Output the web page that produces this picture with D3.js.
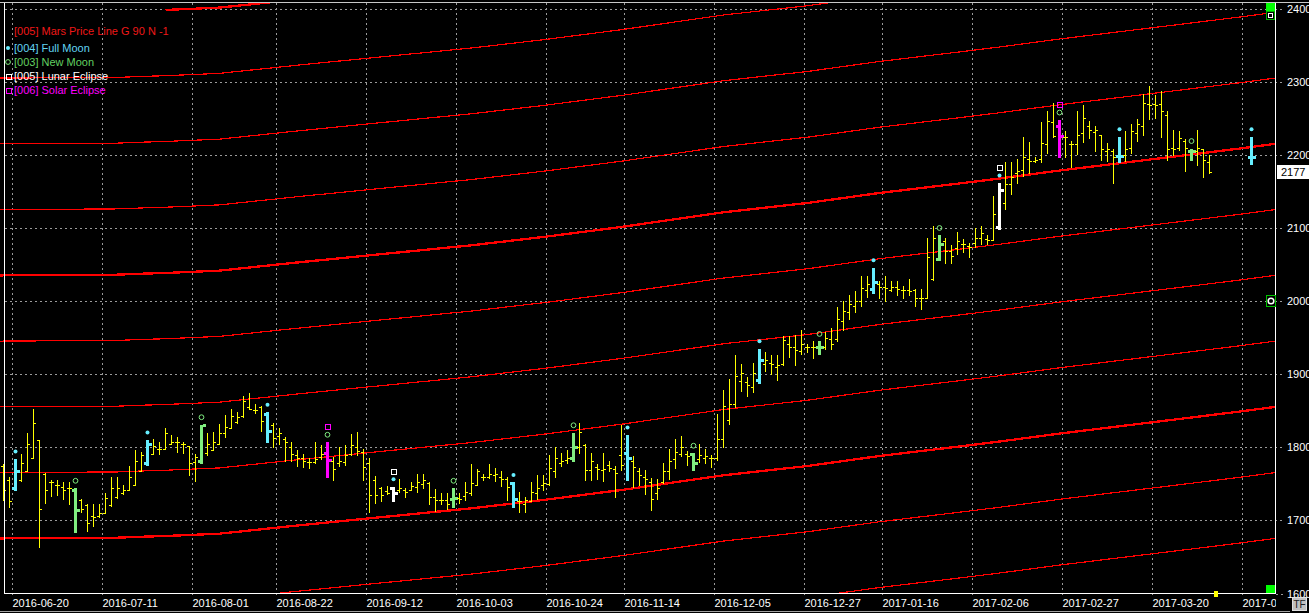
<!DOCTYPE html>
<html>
<head>
<meta charset="utf-8">
<script src="https://cdn.jsdelivr.net/npm/d3@7"></script>
<style>
html, body { margin: 0; padding: 0; background: #000; }
svg { display: block; font-family: "Liberation Sans", Arial, sans-serif; }
</style>
</head>
<body>
<svg id="chart" width="1309" height="613"></svg>
<script>
// one bar per trading day, bar 0 = 2016-06-16
var open = [
  1774,1756,1744,1755,1767,1785,1810,1763,1753,1748, 1746,1745,1742,1728,1721,1706,1706,1710,1721,1732,
  1737,1741,1749,1767,1779,1791,1798,1798,1805,1807, 1805,1802,1780,1781,1792,1797,1805,1819,1826,1835,
  1843,1855,1851,1855,1846,1830,1816,1812,1800,1789, 1785,1780,1780,1787,1792,1782,1778,1780,1791,1800,
  1794,1778,1755,1745,1740,1744,1741,1741,1742,1746, 1750,1751,1732,1728,1728,1730,1731,1734,1738,1749,
  1759,1760,1762,1760,1757,1751,1727,1722,1727,1737, 1748,1750,1768,1778,1783,1785,1801,1803,1769,1773,
  1769,1776,1771,1790,1792,1781,1768,1760,1752,1737, 1752,1768,1784,1791,1791,1791,1784,1786,1786,1786,
  1812,1837,1860,1891,1889,1882,1892,1914,1916,1910, 1914,1941,1937,1932,1937,1937,1937,1937,1948,1948,
  1973,1985,1994,2001,2016,2017,2023,2019,2016,2020, 2016,2016,2015,2005,2005,2030,2058,2083,2069,2073,
  2078,2076,2080,2086,2085,2084,2101,2135,2160,2175, 2180,2195,2192,2195,2215,2245,2240,2225,2215,2215,
  2230,2240,2232,2227,2205,2205,2199,2200,2210,2230, 2240,2270,2270,2270,2255,2210,2210,2220,2206,2205,
  2208,2190
];
var high = [
  1777,1759,1784,1791,1819,1852,1810,1765,1756,1756, 1753,1753,1744,1729,1722,1722,1722,1738,1760,1760,
  1749,1775,1797,1794,1810,1812,1807,1826,1817,1814, 1807,1802,1791,1831,1819,1821,1832,1844,1853,1848,
  1871,1875,1859,1856,1848,1833,1826,1814,1807,1796, 1791,1786,1807,1803,1807,1787,1801,1803,1818,1821,
  1798,1786,1761,1746,1747,1746,1757,1744,1753,1764, 1763,1752,1743,1738,1737,1744,1737,1752,1777,1770,
  1764,1777,1772,1767,1760,1752,1739,1732,1752,1762, 1762,1789,1801,1792,1796,1820,1834,1805,1792,1777,
  1792,1782,1775,1830,1817,1788,1772,1769,1758,1757, 1779,1798,1812,1815,1795,1792,1805,1798,1790,1846,
  1879,1893,1926,1914,1896,1916,1935,1930,1927,1926, 1952,1953,1954,1960,1941,1945,1945,1958,1964,1992,
  2001,2009,2014,2035,2035,2046,2028,2034,2028,2028, 2021,2031,2017,2017,2086,2103,2090,2087,2077,2095,
  2085,2080,2100,2103,2090,2144,2162,2191,2191,2195, 2225,2218,2197,2245,2260,2272,2248,2233,2220,2261,
  2269,2247,2240,2228,2216,2208,2225,2233,2242,2249, 2284,2294,2282,2288,2261,2235,2233,2222,2209,2235,
  2209,2200
];
var low = [
  1728,1718,1741,1754,1767,1785,1663,1724,1734,1735, 1729,1723,1684,1712,1685,1692,1705,1710,1720,1731,
  1736,1741,1749,1767,1776,1791,1791,1798,1804,1793, 1792,1762,1754,1779,1790,1797,1804,1814,1826,1833,
  1842,1852,1847,1823,1807,1800,1805,1782,1781,1774, 1773,1772,1778,1784,1760,1755,1774,1776,1789,1789,
  1755,1711,1724,1726,1736,1726,1739,1732,1741,1739, 1744,1723,1713,1722,1715,1719,1724,1728,1735,1748,
  1755,1758,1754,1747,1728,1718,1711,1712,1726,1730, 1742,1748,1760,1775,1779,1782,1792,1756,1756,1757,
  1754,1767,1732,1769,1755,1746,1748,1736,1714,1730, 1751,1757,1772,1788,1776,1769,1780,1779,1773,1783,
  1800,1832,1855,1877,1870,1876,1888,1904,1901,1892, 1913,1924,1913,1928,1930,1923,1928,1935,1935,1946,
  1960,1976,1985,1993,2006,2011,2005,2001,2014,2008, 2004,2009,1993,1989,2005,2029,2056,2053,2053,2065,
  2067,2060,2074,2078,2078,2084,2099,2126,2147,2162, 2172,2176,2190,2190,2203,2225,2197,2197,2184,2201,
  2218,2223,2206,2193,2192,2162,2190,2192,2203,2219, 2228,2250,2251,2225,2193,2200,2207,2178,2193,2187,
  2170,2176
];
var close = [
  1741,1726,1767,1779,1804,1834,1716,1741,1753,1748, 1741,1744,1714,1716,1697,1705,1710,1731,1745,1744,
  1741,1759,1782,1790,1804,1802,1798,1820,1808,1807, 1805,1778,1787,1830,1804,1808,1820,1828,1843,1842,
  1863,1853,1851,1836,1823,1813,1820,1807,1791,1786, 1782,1780,1784,1791,1783,1771,1781,1789,1803,1795,
  1773,1735,1735,1735,1738,1738,1744,1739,1747,1753, 1755,1732,1728,1728,1723,1731,1730,1739,1751,1767,
  1759,1764,1763,1757,1746,1729,1726,1728,1739,1745, 1751,1772,1785,1782,1785,1801,1821,1769,1782,1770,
  1770,1772,1765,1776,1786,1773,1762,1757,1730,1745, 1767,1782,1794,1801,1788,1779,1789,1788,1785,1812,
  1856,1860,1898,1902,1885,1902,1919,1920,1914,1913, 1947,1938,1933,1941,1938,1937,1937,1950,1942,1976,
  1987,1996,2001,2018,2023,2026,2019,2018,2020,2017, 2015,2014,2005,2005,2060,2087,2079,2069,2062,2083,
  2079,2074,2086,2093,2084,2119,2152,2160,2170,2178, 2197,2192,2193,2217,2247,2226,2226,2225,2215,2228,
  2251,2235,2234,2208,2209,2197,2199,2208,2233,2242, 2272,2269,2269,2260,2208,2209,2223,2210,2206,2210,
  2193,2177
];

// projected bar on the next full moon (2017-04-11)
var extraBar = {i: 208, o: 2198, h: 2225, l: 2188, c: 2198};

// moon / eclipse events, as bar numbers
var fullMoon = [2, 24, 44, 65, 85, 104, 126, 145, 166, 186, 208];
var newMoon = [12, 33, 54, 75, 95, 115, 136, 156, 176, 198];
var lunarEclipse = [65, 166];
var solarEclipse = [54, 176];

// date axis
var tickLabels = ["2016-06-20", "2016-07-11", "2016-08-01", "2016-08-22", "2016-09-12", "2016-10-03",
  "2016-10-24", "2016-11-14", "2016-12-05", "2016-12-27", "2017-01-16", "2017-02-06", "2017-02-27",
  "2017-03-20", "2017-04-10"];
var tickBars = [2, 17, 32, 46, 61, 76, 91, 104, 119, 134, 147, 162, 177, 192, 207];
var priceTicks = [1600, 1700, 1800, 1900, 2000, 2100, 2200, 2300, 2400];

// Mars price line: base level read at some bars, the others are parallel at 90 steps
var marsBars = [-1, 19, 23, 27, 31, 36, 49, 61, 78, 90, 103, 120, 134, 146, 160, 166, 176, 184, 190, 198, 206, 212];
var marsBase = [1675.4, 1676.4, 1677.7, 1678.7, 1680.1, 1681.9, 1693.1, 1702.9, 1716.6, 1728.0, 1741.7,
  1761.8, 1774.5, 1788.2, 1801.9, 1808.0, 1818.9, 1826.9, 1832.9, 1840.9, 1849.0, 1855.5];
var marsOffsets = [-180, -90, 0, 90, 180, 270, 360, 450, 540, 630, 720];
var marsFirstBar = {720: 27};

var cursorBar = 202;
var lastPrice = close[close.length - 1];

var legend = [
  {text: "[005] Mars Price Line G 90 N -1", color: "#f01818", mark: null},
  {text: "[004] Full Moon", color: "#62d4f2", mark: "full"},
  {text: "[003] New Moon", color: "#62d062", mark: "new"},
  {text: "[005] Lunar Eclipse", color: "#ffffff", mark: "lunar"},
  {text: "[006] Solar Eclipse", color: "#ff00ff", mark: "solar"}
];

var colors = {plain: "#ffff00", full: "#66eeff", new: "#80ee80", lunar: "#ffffff", solar: "#ff00ff"};

var svg = d3.select("#chart");
var x = d3.scaleLinear().domain([0, 212]).range([3.5, 1275.5]);
var y = d3.scaleLinear().domain([1600, 2400]).range([593.5, 9]);
var py = v => Math.round(y(v)) + 0.5;

svg.append("rect").attr("width", 1309).attr("height", 613).attr("fill", "#000");

svg.append("clipPath").attr("id", "plotClip")
  .append("rect").attr("x", 0).attr("y", 3).attr("width", 1275.5).attr("height", 590.5);
svg.append("clipPath").attr("id", "dateClip")
  .append("rect").attr("x", 0).attr("y", 594).attr("width", 1276).attr("height", 19);

// grid
var grid = svg.append("g").attr("stroke", "#9a9a9a").attr("stroke-dasharray", "2,3")
  .attr("shape-rendering", "crispEdges");
grid.selectAll(".hg").data(priceTicks.slice(1)).join("line")
  .attr("x1", 5).attr("x2", 1283).attr("y1", py).attr("y2", py);
grid.selectAll(".vg").data(tickBars).join("line")
  .attr("x1", d => x(d) - 3).attr("x2", d => x(d) - 3)
  .attr("y1", 3).attr("y2", 598);
grid.append("line").attr("x1", 1276).attr("x2", 1283).attr("y1", py(1600)).attr("y2", py(1600));

var plot = svg.append("g").attr("clip-path", "url(#plotClip)");

// Mars price lines
var line = d3.line().x(d => x(d[0])).y(d => y(d[1]));
marsOffsets.forEach(off => {
  var first = marsFirstBar[off] !== undefined ? marsFirstBar[off] : -99;
  var pts = [];
  marsBars.forEach((b, j) => { if (b >= first) pts.push([b, marsBase[j] + off]); });
  plot.append("path")
    .attr("d", line(pts))
    .attr("fill", "none")
    .attr("stroke", "#ff0000")
    .attr("stroke-width", off % 360 == 0 ? 2.3 : 1.2)
    .attr("shape-rendering", "crispEdges");
});

// bars
function kindOf(i) {
  if (solarEclipse.includes(i)) return "solar";
  if (lunarEclipse.includes(i)) return "lunar";
  if (fullMoon.includes(i)) return "full";
  if (newMoon.includes(i)) return "new";
  return "plain";
}
var bars = d3.range(open.length).map(i => ({i: i, o: open[i], h: high[i], l: low[i], c: close[i]}));
bars.push(extraBar);
bars.forEach(d => d.kind = kindOf(d.i));

var barG = plot.append("g").attr("shape-rendering", "crispEdges");
bars.forEach(d => {
  var cx = x(d.i), col = colors[d.kind];
  var w = d.kind == "plain" ? 1 : 3;
  var t = d.kind == "plain" ? 2 : 2.5;
  var th = d.kind == "plain" ? 1 : 2.5;
  var g = barG.append("g").attr("fill", col);
  g.append("rect").attr("x", cx - w / 2).attr("y", Math.round(y(d.h)))
    .attr("width", w).attr("height", Math.max(1, Math.round(y(d.l)) - Math.round(y(d.h)) + 1));
  g.append("rect").attr("x", cx - w / 2 - t).attr("y", Math.round(y(d.o)) - (th - 1) / 2)
    .attr("width", t).attr("height", th);
  g.append("rect").attr("x", cx + w / 2).attr("y", Math.round(y(d.c)) - (th - 1) / 2)
    .attr("width", t).attr("height", th);
});

// event markers above the bars
function drawMark(g, kind, cx, cy) {
  if (kind == "full") {
    g.append("circle").attr("cx", cx).attr("cy", cy).attr("r", 2).attr("fill", colors.full);
  } else if (kind == "new") {
    g.append("circle").attr("cx", cx).attr("cy", cy).attr("r", 2.4)
      .attr("fill", "none").attr("stroke", colors.new);
  } else {
    // keep the hollow squares on the pixel grid
    var sx = Math.round(cx - 2.5) + 0.5, sy = Math.round(cy - 2.5) + 0.5;
    g.append("rect").attr("x", sx).attr("y", sy).attr("width", 5).attr("height", 5)
      .attr("fill", "none").attr("stroke", colors[kind]).attr("shape-rendering", "crispEdges");
  }
}
var markG = svg.append("g");
bars.forEach(d => {
  var top = y(d.h), cx = x(d.i);
  var moon = fullMoon.includes(d.i) ? "full" : (newMoon.includes(d.i) ? "new" : null);
  var ecl = solarEclipse.includes(d.i) ? "solar" : (lunarEclipse.includes(d.i) ? "lunar" : null);
  if (moon) drawMark(markG, moon, cx, top - 7.5);
  if (ecl) drawMark(markG, ecl, cx, top - 15.5);
});

// frame
var frame = svg.append("g").attr("stroke", "#fff").attr("shape-rendering", "crispEdges");
frame.append("line").attr("x1", 0).attr("x2", 1309).attr("y1", 2.5).attr("y2", 2.5).attr("stroke", "#c8c8c8");
frame.append("line").attr("x1", 4.5).attr("x2", 4.5).attr("y1", 3).attr("y2", 594);
frame.append("line").attr("x1", 4).attr("x2", 1276).attr("y1", 593.5).attr("y2", 593.5);
frame.append("line").attr("x1", 1275.5).attr("x2", 1275.5).attr("y1", 3).attr("y2", 594);
frame.append("line").attr("x1", 0).attr("x2", 1290).attr("y1", 611.5).attr("y2", 611.5).attr("stroke", "#a0a0a0");

// price axis labels
svg.append("g").selectAll("text").data(priceTicks).join("text")
  .attr("x", 1287).attr("y", d => y(d) + 4)
  .attr("fill", "#fff").attr("font-size", 11)
  .text(d => d);

// date labels
svg.append("g").attr("clip-path", "url(#dateClip)")
  .selectAll("text").data(tickBars).join("text")
  .attr("x", d => x(d) - 3).attr("y", 607)
  .attr("fill", "#fff").attr("font-size", 11)
  .text((d, k) => tickLabels[k]);

// last price box
svg.append("rect").attr("x", 1277).attr("y", Math.round(y(lastPrice)) - 7)
  .attr("width", 32).attr("height", 14).attr("fill", "#fff");
svg.append("text").attr("x", 1281).attr("y", Math.round(y(lastPrice)) + 4)
  .attr("fill", "#000").attr("font-size", 11).text(lastPrice);

// scroll handles and small widgets on the right edge
svg.append("rect").attr("x", 1266).attr("y", 3).attr("width", 9).attr("height", 8).attr("fill", "#00ff00");
svg.append("rect").attr("x", 1266).attr("y", 585).attr("width", 9).attr("height", 8).attr("fill", "#00ff00");
svg.append("rect").attr("x", 1266.5).attr("y", 11.5).attr("width", 8).attr("height", 8)
  .attr("fill", "#000").attr("stroke", "#00b000");
svg.append("rect").attr("x", 1268.5).attr("y", 13.5).attr("width", 4).attr("height", 4)
  .attr("fill", "none").attr("stroke", "#fff");
svg.append("rect").attr("x", 1266.5).attr("y", py(2000) - 6).attr("width", 9).attr("height", 11)
  .attr("fill", "#000").attr("stroke", "#00c000");
svg.append("circle").attr("cx", 1271).attr("cy", py(2000) - 0.5).attr("r", 2.8)
  .attr("fill", "none").attr("stroke", "#fff").attr("stroke-width", 1.5);

// current time marker
svg.append("rect").attr("x", x(cursorBar) - 1.5).attr("y", 591).attr("width", 4).attr("height", 6)
  .attr("fill", "#ffff00");

// TF button
svg.append("rect").attr("x", 1292.5).attr("y", 597.5).attr("width", 14).attr("height", 13)
  .attr("fill", "#c0c0c0").attr("stroke", "#e0e0e0");
svg.append("text").attr("x", 1299.5).attr("y", 608).attr("text-anchor", "middle")
  .attr("font-size", 10).attr("fill", "#202020").text("TF");

// legend
var lg = svg.append("g");
var legendY = [34.5, 52, 66, 80, 94];
legend.forEach((d, k) => {
  lg.append("text").attr("x", 14).attr("y", legendY[k])
    .attr("fill", d.color).attr("font-size", 11).text(d.text);
  if (d.mark) drawMark(lg, d.mark, 8, legendY[k] - 4);
});
</script>
</body>
</html>
